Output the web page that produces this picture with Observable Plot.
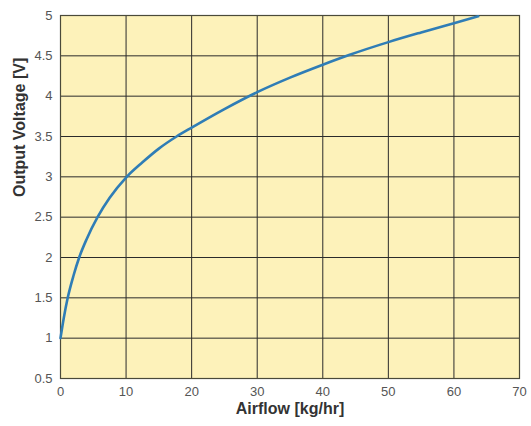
<!DOCTYPE html>
<html><head><meta charset="utf-8">
<script src="https://cdn.jsdelivr.net/npm/d3@7"></script>
<script src="https://cdn.jsdelivr.net/npm/@observablehq/plot@0.6"></script>
<style>body{margin:0;background:#fff;font-family:"Liberation Sans",Arial,sans-serif;}</style>
</head><body><div id="chart"></div>
<script>
const airflow = [0, 0.5, 1.1, 2, 2.85, 4, 5.65, 7.5, 10.1, 12.5, 15, 17.7, 20, 25, 30, 35, 40, 44, 50, 55, 60, 63.7];
const voltage = [1.0, 1.25, 1.5, 1.78, 2.0, 2.23, 2.5, 2.74, 3.0, 3.18, 3.35, 3.5, 3.61, 3.84, 4.05, 4.23, 4.39, 4.51, 4.67, 4.79, 4.905, 4.99];
const xTicks = [0, 10, 20, 30, 40, 50, 60, 70];
const yTicks = [0.5, 1, 1.5, 2, 2.5, 3, 3.5, 4, 4.5, 5];
const data = airflow.map((x, i) => ({x, y: voltage[i]}));

const chart = Plot.plot({
  width: 531, height: 426,
  marginLeft: 60, marginRight: 12, marginTop: 15, marginBottom: 48,
  style: {fontFamily: '"Liberation Sans", Arial, sans-serif', fontSize: "13px", background: "#fff"},
  x: {domain: [0, 70], ticks: xTicks, tickSize: 0, tickPadding: 8, label: null},
  y: {domain: [0.5, 5], ticks: yTicks, tickSize: 0, tickPadding: 8, label: null, tickFormat: d => String(d)},
  marks: [
    Plot.frame({fill: "#FDF2BA"}),
    Plot.ruleX(xTicks, {stroke: "#2b2b2b", strokeWidth: 1, strokeOpacity: 1}),
    Plot.ruleY(yTicks, {stroke: "#2b2b2b", strokeWidth: 1, strokeOpacity: 1}),
    Plot.frame({stroke: "#4a4a3a", strokeWidth: 1.2}),
    Plot.line(data, {x: "x", y: "y", stroke: "#2F7DB6", strokeWidth: 2.6, curve: "monotone-x"}),
    Plot.axisX({ticks: xTicks, tickSize: 0, tickPadding: 8, color: "#555", label: null}),
    Plot.axisY({ticks: yTicks, tickSize: 0, tickPadding: 8, color: "#555", label: null, tickFormat: d => String(d)}),
    Plot.text(["Airflow [kg/hr]"], {frameAnchor: "bottom", dy: 35, fontWeight: "bold", fontSize: 16, fill: "#333"}),
    Plot.text(["Output Voltage [V]"], {frameAnchor: "left", dx: -41, rotate: -90, fontWeight: "bold", fontSize: 16, fill: "#333"})
  ]
});
document.getElementById("chart").appendChild(chart);
</script></body></html>
